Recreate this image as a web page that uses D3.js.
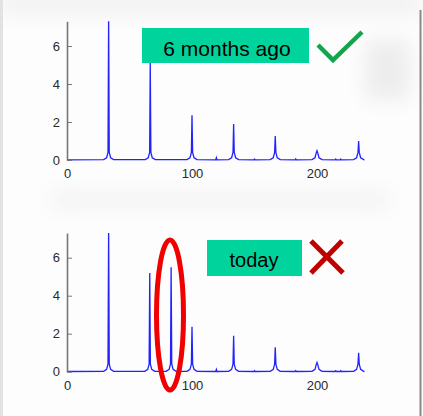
<!DOCTYPE html>
<html>
<head>
<meta charset="utf-8">
<script src="https://cdn.jsdelivr.net/npm/d3@7"></script>
<style>
  body { margin: 0; background: #fff; }
</style>
</head>
<body>
<div id="chart"></div>
<script>
// spectrum peaks (x in bins, y in amplitude)
var peaksBeforeX = [33.3, 66.6, 100, 133.3, 166.6, 200, 233.3];
var peaksBeforeY = [7.6, 5.2, 2.36, 1.89, 1.26, 0.49, 1.0];
var peaksTodayX = [33.3, 66.2, 83.3, 100, 133.3, 166.6, 200, 233.3];
var peaksTodayY = [7.6, 5.19, 5.5, 2.36, 1.89, 1.28, 0.49, 1.0];
// small bumps between the harmonics
var bumpsX = [119.5, 150, 183, 215, 219];
var bumpsY = [0.12, 0.05, 0.06, 0.05, 0.05];
var xTicks = [0, 100, 200];
var yTicks = [0, 2, 4, 6];
var xMax = 238;

var w = 423, h = 416;

var svg = d3.select("#chart").append("svg")
  .attr("width", w)
  .attr("height", h);

// soft slide shadows
var defs = svg.append("defs");
defs.append("filter").attr("id", "blur")
  .attr("x", "-50%").attr("y", "-50%").attr("width", "200%").attr("height", "200%")
  .append("feGaussianBlur").attr("stdDeviation", 10);

svg.append("rect").attr("width", w).attr("height", h).attr("fill", "#fdfdfd");
svg.append("rect").attr("x", 0).attr("y", -10).attr("width", w).attr("height", 26)
  .attr("fill", "#f2f2f2").attr("filter", "url(#blur)");
svg.append("rect").attr("x", 365).attr("y", 40).attr("width", 45).attr("height", 60)
  .attr("fill", "#ededed").attr("filter", "url(#blur)");
svg.append("rect").attr("x", 50).attr("y", 190).attr("width", 340).attr("height", 20)
  .attr("fill", "#f4f4f4").attr("filter", "url(#blur)");
svg.append("rect").attr("x", 0).attr("y", 0).attr("width", 3).attr("height", h).attr("fill", "#e2e2e2");
svg.append("rect").attr("x", 419.5).attr("y", 10).attr("width", 2).attr("height", h - 10).attr("fill", "#8a8a8a");

var xScale = d3.scaleLinear().domain([0, 240]).range([67, 367]);

// builds the line points of a spectrum: flat floor with narrow spikes
function spectrum(px, py) {
  var pts = [[0, 0.01]];
  var all = px.map(function(d, i) { return [d, py[i]]; })
    .concat(bumpsX.map(function(d, i) { return [d, bumpsY[i]]; }))
    .sort(function(a, b) { return a[0] - b[0]; });
  all.forEach(function(p) {
    var big = p[1] > 0.3;
    if (big) {
      pts.push([p[0] - 4, 0.02], [p[0] - 1.6, 0.12], [p[0] - 0.5, 0.4],
               [p[0], p[1]], [p[0] + 0.5, 0.4], [p[0] + 1.6, 0.12], [p[0] + 4, 0.02]);
    } else {
      pts.push([p[0] - 0.5, 0.01], [p[0], p[1]], [p[0] + 0.5, 0.01]);
    }
  });
  pts.push([xMax, 0.01]);
  return pts;
}

function drawPanel(y0, px, py) {
  var yScale = d3.scaleLinear().domain([0, 7.3]).range([y0, y0 - 138.7]);
  var g = svg.append("g");

  g.append("clipPath").attr("id", "clip" + y0)
    .append("rect").attr("x", 60).attr("y", yScale(7.3)).attr("width", 320).attr("height", 160);

  var line = d3.line()
    .x(function(d) { return xScale(d[0]); })
    .y(function(d) { return yScale(d[1]); });

  g.append("path")
    .datum(spectrum(px, py))
    .attr("clip-path", "url(#clip" + y0 + ")")
    .attr("fill", "none")
    .attr("stroke", "#2222ff")
    .attr("stroke-width", 1.3)
    .attr("d", line);

  var yAxis = d3.axisLeft(yScale).tickValues(yTicks).tickSize(-5).tickSizeOuter(0).tickPadding(7);
  var ya = g.append("g").attr("transform", "translate(" + xScale(0) + ",0)").call(yAxis);
  ya.select(".domain").attr("stroke", "#777").attr("stroke-width", 1.6);
  ya.selectAll(".tick line").attr("stroke", "#777");

  var xAxis = d3.axisBottom(xScale).tickValues(xTicks).tickSize(0).tickPadding(9);
  var xa = g.append("g").attr("transform", "translate(0," + y0 + ")").call(xAxis);
  xa.select(".domain").remove();

  g.selectAll(".tick text")
    .attr("font-family", "Liberation Sans, Arial, sans-serif")
    .attr("font-size", 13)
    .attr("fill", "#2a2a2a");
}

drawPanel(160, peaksBeforeX, peaksBeforeY);
drawPanel(371.7, peaksTodayX, peaksTodayY);

// labels
svg.append("rect").attr("x", 142).attr("y", 28).attr("width", 167).attr("height", 35).attr("fill", "#00d49c");
svg.append("text").attr("x", 227).attr("y", 55.5).attr("text-anchor", "middle")
  .style("font-family", "Liberation Sans, Arial, sans-serif").style("font-size", "21px")
  .text("6 months ago");
svg.append("path").attr("d", "M318,45L333,60L362,32")
  .attr("fill", "none").attr("stroke", "#12a54c").attr("stroke-width", 4.5);

svg.append("rect").attr("x", 207).attr("y", 240).attr("width", 95).attr("height", 36).attr("fill", "#00d49c");
svg.append("text").attr("x", 254).attr("y", 266.5).attr("text-anchor", "middle")
  .style("font-family", "Liberation Sans, Arial, sans-serif").style("font-size", "20px")
  .text("today");
svg.append("path").attr("d", "M311,241L343,273M342,241L311,273")
  .attr("fill", "none").attr("stroke", "#c00000").attr("stroke-width", 5);

// highlight around the new peak
svg.append("ellipse").attr("cx", 170).attr("cy", 315).attr("rx", 13.5).attr("ry", 75)
  .attr("fill", "none").attr("stroke", "#f00000").attr("stroke-width", 5);
</script>
</body>
</html>
